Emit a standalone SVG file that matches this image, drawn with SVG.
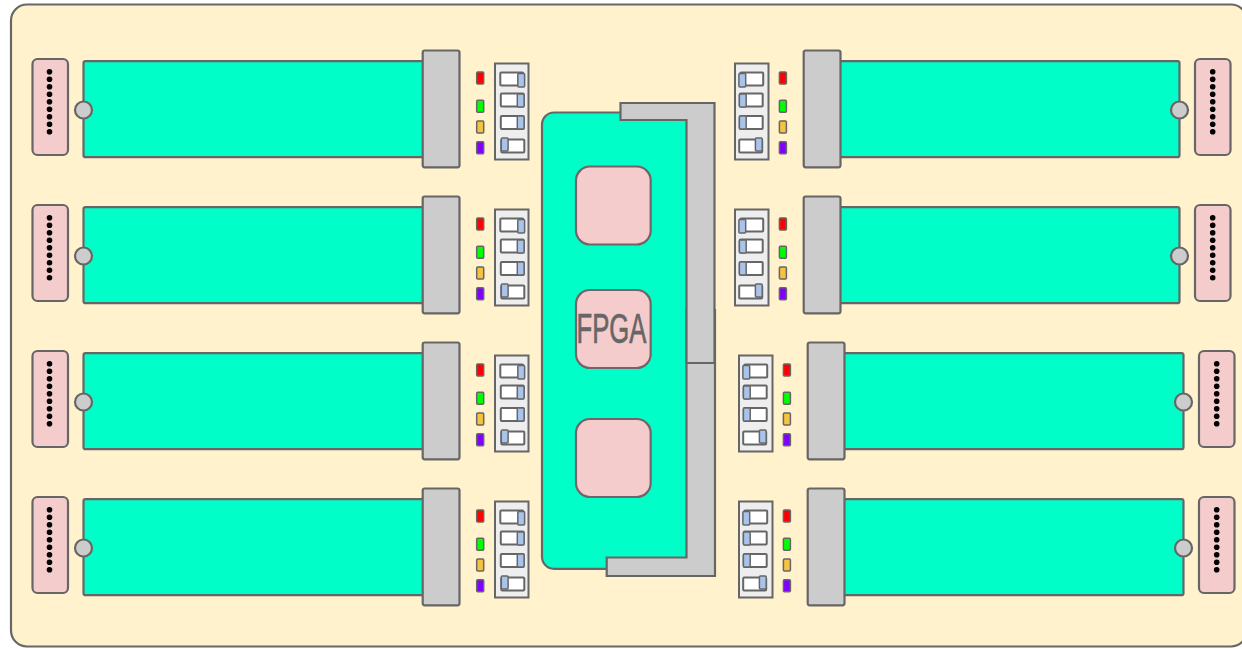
<svg xmlns="http://www.w3.org/2000/svg" xmlns:xlink="http://www.w3.org/1999/xlink" width="1242" height="649" viewBox="0 0 1242 649">
<style>
.s{stroke:#666;stroke-width:2.2}
.sw{stroke:#666;stroke-width:2}
.sk{stroke:#666;stroke-width:1.5}
.thin{stroke:#666;stroke-width:2}
.led{stroke:#666;stroke-width:1.5}
.bg{fill:#fff2cc}
.teal{fill:#00ffc8}
.pink{fill:#f4cccc}
.grey{fill:#ccc}
.panel{fill:#eee}
.white{fill:#fff}
.knob{fill:#a9c4eb}
.chip{fill:#f4cccc;stroke:#736469;stroke-width:2.2}
.label{font-family:"Liberation Sans",Arial,sans-serif;font-size:43px;fill:#666;stroke:#666;stroke-width:.7}
</style>
<defs>
<g id="dots" fill="#000">
<circle cx="0" cy="0" r="2.8"/><circle cx="0" cy="7.5" r="2.8"/><circle cx="0" cy="15" r="2.8"/><circle cx="0" cy="22.5" r="2.8"/><circle cx="0" cy="30" r="2.8"/><circle cx="0" cy="37.5" r="2.8"/><circle cx="0" cy="45" r="2.8"/><circle cx="0" cy="52.5" r="2.8"/><circle cx="0" cy="60" r="2.8"/>
</g>
<g id="leds">
<rect class="led" x="476.700" y="71.900" width="7" height="12" rx="1" fill="#f00"/>
<rect class="led" x="476.700" y="100.300" width="7" height="12" rx="1" fill="#0f0"/>
<rect class="led" x="476.700" y="120.900" width="7" height="12" rx="1" fill="#f5c242"/>
<rect class="led" x="476.700" y="141.800" width="7" height="12" rx="1" fill="#8000ff"/>
</g>
<g id="dip">
<rect class="thin panel" x="495" y="63.500" width="33.500" height="96"/>
<rect class="sw white" x="500.300" y="72.500" width="23" height="13" rx="1"/>
<rect class="sk knob" x="517.800" y="73.500" width="6.800" height="13.500" rx="1"/>
<rect class="sw white" x="500.800" y="93.500" width="23" height="13" rx="1"/>
<rect class="sk knob" x="517.300" y="94" width="6.800" height="13" rx="1"/>
<rect class="sw white" x="500.800" y="116" width="23" height="13" rx="1"/>
<rect class="sk knob" x="517.300" y="116" width="6.800" height="13" rx="1"/>
<rect class="sw white" x="501.300" y="139.500" width="23" height="13" rx="1"/>
<rect class="sk knob" x="501.300" y="138" width="6.800" height="13" rx="1"/>
</g>
<g id="left-module">
<rect class="s pink" x="32.500" y="59" width="35.500" height="96" rx="5"/>
<use xlink:href="#dots" href="#dots" x="49.500" y="71.700"/>
<rect class="s teal" x="83.500" y="61.200" width="342" height="96" rx="2"/>
<circle class="s grey" cx="83.500" cy="110" r="8.500"/>
<rect class="s grey" x="422.700" y="50.500" width="36.800" height="116.800" rx="2"/>
<use xlink:href="#leds" href="#leds"/>
<use xlink:href="#dip" href="#dip"/>
</g>
<g id="right-module">
<use xlink:href="#dip" href="#dip" transform="translate(1263.500 0) scale(-1 1)"/>
<use xlink:href="#leds" href="#leds" x="302.700"/>
<rect class="s teal" x="837.500" y="61.200" width="342" height="96" rx="2"/>
<rect class="s grey" x="803.700" y="50.500" width="36.800" height="116.800" rx="2"/>
<circle class="s grey" cx="1179.500" cy="110" r="8.500"/>
<rect class="s pink" x="1195" y="59" width="35.500" height="96" rx="5"/>
<use xlink:href="#dots" href="#dots" x="1212.700" y="71.700"/>
</g>
</defs>
<g id="base"><rect class="s bg" x="11" y="4.500" width="1236" height="642" rx="16"/></g>
<g id="connectors"></g>
<g id="module-l1"><use xlink:href="#left-module" href="#left-module"/></g>
<g id="module-l2"><use xlink:href="#left-module" href="#left-module" y="146"/></g>
<g id="module-l3"><use xlink:href="#left-module" href="#left-module" y="292"/></g>
<g id="module-l4"><use xlink:href="#left-module" href="#left-module" y="438"/></g>
<g id="module-r1"><use xlink:href="#right-module" href="#right-module"/></g>
<g id="module-r2"><use xlink:href="#right-module" href="#right-module" y="146"/></g>
<g id="module-r3"><use xlink:href="#right-module" href="#right-module" x="4" y="292"/></g>
<g id="module-r4"><use xlink:href="#right-module" href="#right-module" x="4" y="438"/></g>
<g id="fpga-board">
<path class="s teal" d="M554 112.500H690V568.800H554a12 12 0 0 1-12-12V124.500a12 12 0 0 1 12-12Z"/>
<path class="s grey" d="M606.700 557.500H686.500V310H715V576H606.700Z"/>
<path class="s grey" d="M620.500 103H714.500V363H686.500V120H620.500Z"/>
</g>
<g id="chip-1"><rect class="chip" x="576" y="166.500" width="74.700" height="78" rx="14"/></g>
<g id="chip-2"><rect class="chip" x="576" y="290" width="74.700" height="78" rx="14"/>
<text class="label" x="576.500" y="343" textLength="70" lengthAdjust="spacingAndGlyphs">FPGA</text></g>
<g id="chip-3"><rect class="chip" x="576" y="419" width="74.700" height="78" rx="14"/></g>
</svg>
